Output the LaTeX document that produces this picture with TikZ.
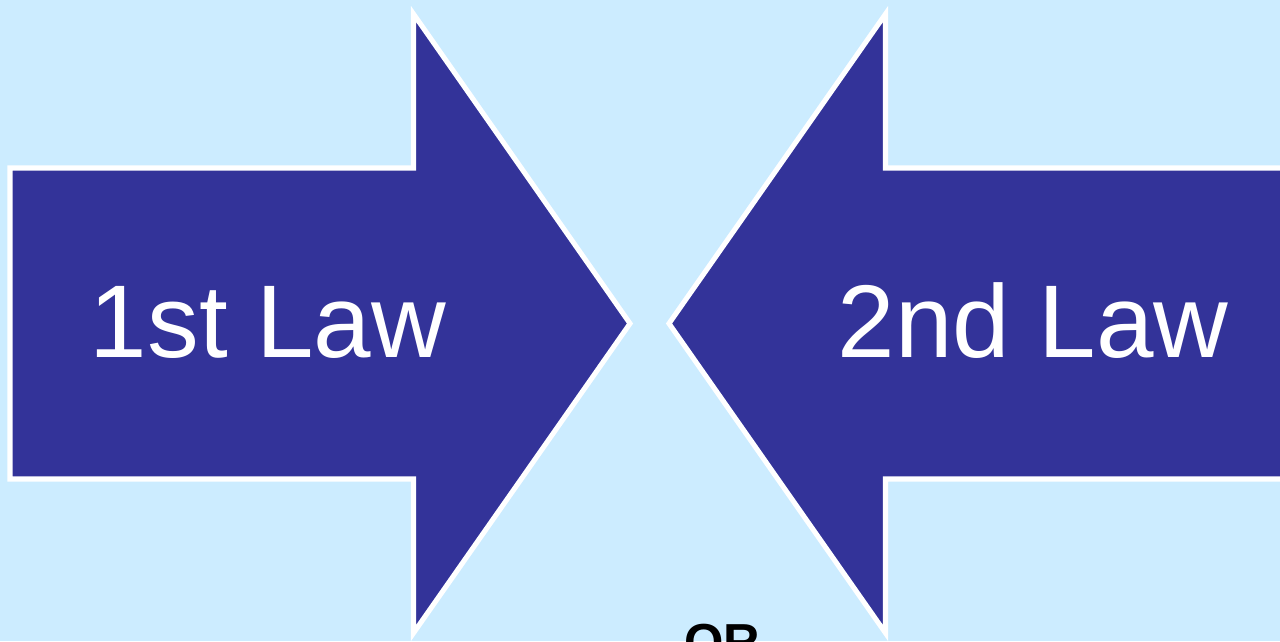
\documentclass[tikz,border=0pt]{standalone}
\usepackage{fontspec}
\setmainfont{Liberation Sans}
\usepackage{tikz}
\usetikzlibrary{positioning}
\definecolor{skyback}{RGB}{204,236,255}
\definecolor{lawblue}{RGB}{51,51,153}

\begin{document}
\begin{tikzpicture}[
  x=0.025cm, y=-0.025cm,
  bigarrow/.style = {fill=lawblue, draw=white, line width=3.6pt, line join=miter},
  lawtext/.style  = {text=white, font=\fontsize{73.5}{78}\selectfont, inner sep=0pt, anchor=base},
  ortext/.style   = {text=black, font=\fontsize{36}{40}\selectfont\bfseries, inner sep=0pt, anchor=base}
]

%% ─── Background and frame ───────────────────────────────────────
\fill[skyback] (0,0) rectangle (1280,641);
\useasboundingbox (0,0) rectangle (1280,641);
\clip (0,0) rectangle (1280,641);

%% ─── Left arrow (pointing right) ────────────────────────────────
\draw[bigarrow] (10,168) -- (413.5,168) -- (413.5,14) -- (630,323.5)
  -- (413.5,633) -- (413.5,479) -- (10,479) -- cycle;

%% ─── Right arrow (pointing left) ────────────────────────────────
\draw[bigarrow] (1300,168) -- (885.5,168) -- (885.5,14) -- (669,323.5)
  -- (885.5,633) -- (885.5,479) -- (1300,479) -- cycle;

%% ─── Labels ─────────────────────────────────────────────────────
\node[lawtext] (first)  at (268,357)  {1st Law};
\node[lawtext] (second) at (1033,357) {2nd Law};
\node[ortext]  (either) at (722,659)  {OR};

\end{tikzpicture}
\end{document}
